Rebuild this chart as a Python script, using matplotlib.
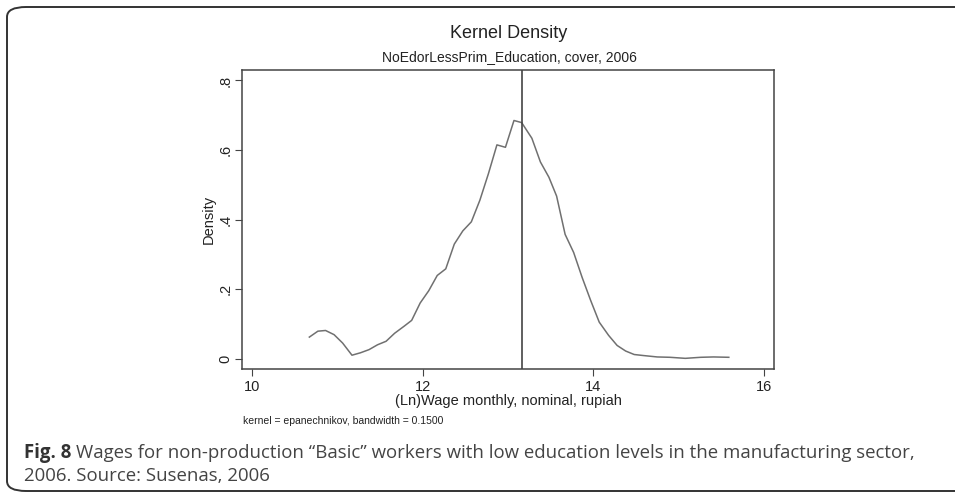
import matplotlib.pyplot as plt
import matplotlib.patches as pt
import numpy as np

# kernel density curve
wage = [10.67, 10.77, 10.86, 10.96, 11.06, 11.17, 11.27, 11.37, 11.47, 11.57,
        11.67, 11.78, 11.87, 11.97, 12.07, 12.17, 12.27, 12.37, 12.47, 12.57,
        12.67, 12.77, 12.87, 12.97, 13.07, 13.16, 13.28, 13.38, 13.48, 13.57,
        13.67, 13.77, 13.87, 13.97, 14.07, 14.18, 14.28, 14.38, 14.48, 14.59,
        14.75, 14.90, 15.08, 15.26, 15.41, 15.59]
density = [0.063, 0.080, 0.082, 0.070, 0.046, 0.011, 0.018, 0.027, 0.041, 0.051,
           0.074, 0.094, 0.111, 0.161, 0.196, 0.240, 0.259, 0.330, 0.368, 0.394,
           0.456, 0.532, 0.615, 0.608, 0.685, 0.679, 0.634, 0.566, 0.522, 0.468,
           0.358, 0.306, 0.234, 0.168, 0.106, 0.068, 0.039, 0.023, 0.013, 0.010,
           0.006, 0.005, 0.002, 0.005, 0.006, 0.005]
mean_line = 13.164
xticks = [10, 12, 14, 16]
yticks = [0, 0.2, 0.4, 0.6, 0.8]
ytick_labels = ['0', '.2', '.4', '.6', '.8']

plt.rcParams['font.family'] = ['Liberation Sans', 'DejaVu Sans']

W, H = 955, 496
fig = plt.figure(figsize=(W / 100, H / 100), dpi=100)

# rounded frame around the figure
frame = pt.FancyBboxPatch((7 / W, 5 / H), 1.2, 1 - 12 / H,
                          boxstyle='round,pad=0,rounding_size=0.02',
                          transform=fig.transFigure, fill=False,
                          edgecolor='#333333', linewidth=1.4)
fig.patches.append(frame)

ax = fig.add_axes([242 / W, 1 - 369 / H, (774 - 242) / W, (369 - 70) / H])
ax.plot(wage, density, color='#707070', linewidth=1.1)
ax.axvline(mean_line, color='#444444', linewidth=1.2)
ax.set_xlim(9.88, 16.12)
ax.set_ylim(-0.0286, 0.83)
ax.set_xticks(xticks)
ax.set_yticks(yticks)
ax.set_yticklabels(ytick_labels, rotation=90, va='center')
for s in ax.spines.values():
    s.set_color('#444444')
    s.set_linewidth(1.1)
ax.tick_params(axis='both', direction='out', length=5, color='#444444',
               labelsize=10.5, labelcolor='#222222', pad=3)
ax.tick_params(axis='y', pad=2)
ax.set_xlabel('(Ln)Wage monthly, nominal, rupiah', fontsize=10.5, labelpad=0,
              color='#222222')
ax.set_ylabel('Density', fontsize=10.5, labelpad=2, color='#222222')

fig.text(509 / W, 1 - 33 / H, 'Kernel Density', ha='center', va='center',
         fontsize=13, color='#222222')
fig.text(509 / W, 1 - 57 / H, 'NoEdorLessPrim_Education, cover, 2006',
         ha='center', va='center', fontsize=10, color='#222222')
fig.text(243 / W, 1 - 421 / H, 'kernel = epanechnikov, bandwidth = 0.1500',
         ha='left', va='center', fontsize=7.5, color='#222222')

# caption: bold label then the rest right after it
cap_size = 13.4
lab = fig.text(24 / W, 1 - 453 / H, 'Fig. 8', ha='left', va='center',
               fontsize=cap_size, fontweight='bold', family='Open Sans',
               color='#333333')
fig.canvas.draw()
bb = lab.get_window_extent()
fig.text((bb.x1 + 5) / W, 1 - 453 / H,
         'Wages for non-production \u201cBasic\u201d workers with low education levels in the manufacturing sector,',
         ha='left', va='center', fontsize=cap_size, family='Open Sans', color='#444444')
fig.text(24 / W, 1 - 476 / H, '2006. Source: Susenas, 2006', ha='left', va='center',
         fontsize=cap_size, family='Open Sans', color='#444444')

fig.savefig('out.png', dpi=100)
